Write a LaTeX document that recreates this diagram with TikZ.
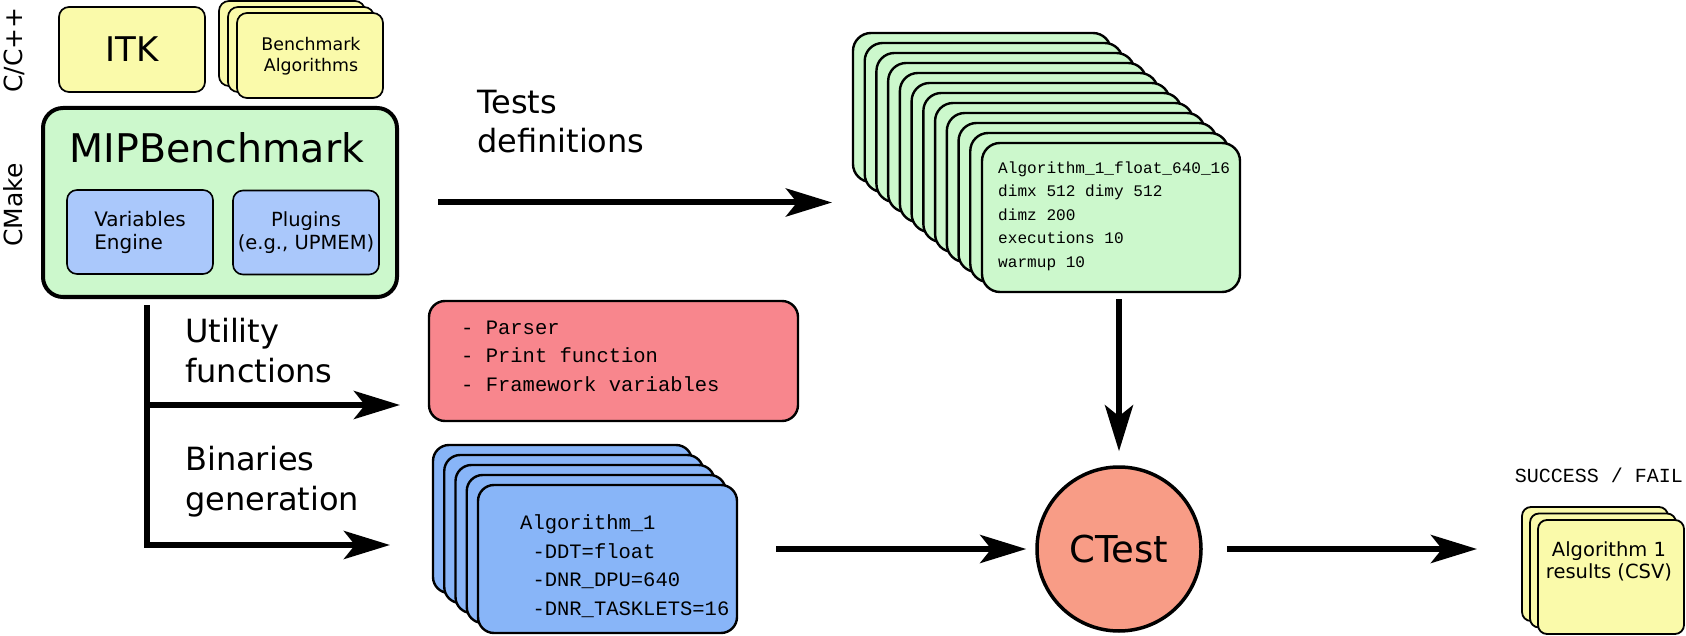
\documentclass[tikz,border=0pt]{standalone}
\usepackage{fontspec}
\setmainfont{DejaVu Sans}
\newfontfamily\monofont{Liberation Mono}
\usetikzlibrary{arrows.meta}
\newcommand{\fsz}[2]{\fontsize{#1}{#2}\selectfont}
\definecolor{ylw}{HTML}{FAFAAA}
\definecolor{grn}{HTML}{CCF8CC}
\definecolor{lblu}{HTML}{AAC8FB}
\definecolor{blu}{HTML}{88B5F8}
\definecolor{redb}{HTML}{F8868D}
\definecolor{ctc}{HTML}{F89C86}
\begin{document}
\begin{tikzpicture}[x=1pt,y=-1pt,
  arr/.style={line width=6pt,line join=miter,-{Stealth[length=46pt,width=28pt,inset=11pt]}},
  basebox/.style={draw=black,inner sep=0pt,outer sep=0pt},
  ybox/.style={basebox,fill=ylw,line width=1.7pt,rounded corners=10pt},
  gbox/.style={basebox,fill=grn,line width=2.4pt,rounded corners=18pt,minimum width=258pt,minimum height=149pt},
  bbox/.style={basebox,fill=blu,line width=2.4pt,rounded corners=16pt,minimum width=259pt,minimum height=148pt},
  rbox/.style={basebox,fill=ylw,line width=1.8pt,rounded corners=9pt,minimum width=146pt,minimum height=114pt},
  abox/.style={basebox,fill=ylw,line width=1.7pt,rounded corners=10pt,minimum width=146pt,minimum height=85pt},
  lbbox/.style={basebox,fill=lblu,line width=1.6pt,rounded corners=10pt,minimum width=146pt,minimum height=84pt,font=\fsz{20}{23}},
  lbl/.style={inner sep=0pt,align=left,font=\fsz{32}{39.5}},
  monotxt/.style={inner sep=0pt,align=left}
]
\useasboundingbox (0,0) rectangle (1686,636);

% side labels
\node[rotate=90,anchor=base,inner sep=0pt,font=\fsz{25}{30}] (cpp) at (22,50) {C/C++};
\node[rotate=90,anchor=base,inner sep=0pt,font=\fsz{25}{30}] (cmake) at (22,205) {CMake};

% ITK
\node[ybox,minimum width=146pt,minimum height=85pt,font=\fsz{34}{40}] (itk) at (132,49.5) {ITK};

% Benchmark algorithms stack
\foreach \i in {0,1,2} {
  \node[abox] (a\i) at ({310-(2-\i)*9},{55.5-(2-\i)*6}) {};
}
\node[inner sep=0pt,align=center,font=\fsz{17.4}{21}] (atxt) at (311,56) {Benchmark\\Algorithms};

% MIPBenchmark
\node[basebox,fill=grn,line width=4pt,rounded corners=20pt,minimum width=354pt,minimum height=189pt] (mip) at (220,202.5) {};
\node[inner sep=0pt,anchor=base,font=\fsz{39.5}{46}] (mipt) at (217,163) {MIPBenchmark};
\node[lbbox,align=left] (var) at (140,232) {Variables\\Engine};
\node[lbbox,align=center,font=\fsz{19.5}{23}] (plg) at (306,232.5) {Plugins\\(e.g., UPMEM)};

% Tests definitions
\node[lbl,anchor=west] (tests) at (477,121.4) {Tests\\definitions};
\foreach \i in {0,...,11} {
  \node[gbox] (g\i) at ({1111-(11-\i)*11.73},{217.5-(11-\i)*10}) {};
}
\node[monotxt,anchor=west,font=\monofont\fsz{16.1}{23.5}] (gtxt) at (998,216.3)
  {Algorithm\_1\_float\_640\_16\\dimx 512 dimy 512\\dimz 200\\executions 10\\warmup 10};

% Utility functions
\node[lbl,anchor=west] (util) at (185,350.4) {Utility\\functions};
\node[basebox,fill=redb,line width=2.4pt,rounded corners=16pt,minimum width=369pt,minimum height=120pt] (red) at (613.5,361) {};
\node[monotxt,anchor=west,font=\monofont\fsz{20.5}{28.5}] (rtxt) at (461,356)
  {- Parser\\- Print function\\- Framework variables};

% Binaries generation
\node[lbl,anchor=west] (bin) at (185,481.6) {Binaries\\generation};
\foreach \i in {0,...,4} {
  \node[bbox] (b\i) at ({607.5-(4-\i)*11.25},{559-(4-\i)*10}) {};
}
\node[monotxt,anchor=west,font=\monofont\fsz{20.5}{28.5}] (btxt) at (520,566)
  {Algorithm\_1\\\hspace*{12.3pt}-DDT=float\\\hspace*{12.3pt}-DNR\_DPU=640\\\hspace*{12.3pt}-DNR\_TASKLETS=16};

% CTest
\node[circle,draw=black,fill=ctc,line width=3.5pt,minimum size=164pt,inner sep=0pt,font=\fsz{37}{42}] (ctest) at (1119,549) {CTest};

% results
\node[inner sep=0pt,anchor=base east,font=\monofont\fsz{20}{24}] (sf) at (1683,482) {SUCCESS / FAIL};
\foreach \i in {0,1,2} {
  \node[rbox] (r\i) at ({1611-(2-\i)*8},{577-(2-\i)*6.5}) {};
}
\node[inner sep=0pt,align=center,font=\fsz{19.5}{21.5}] (rtxt2) at (1609,561.4) {Algorithm 1\\results (CSV)};

% connectors
\coordinate (v0) at (147,305);
\coordinate (u0) at (147,405);
\coordinate (v1) at (147,545);
\draw[arr] ([xshift=41pt]mip.east) -- ([xshift=-21pt]mip.east -| g0.west);
\draw[arr] (v0) -- (v1) -- ([xshift=-43pt]v1 -| b0.west);
\draw[arr] (u0) -- ([xshift=-29pt]u0 -| red.west);
\draw[arr] ([yshift=-7pt]g11.south -| ctest.north) -- ([yshift=14pt]ctest.north);
\draw[arr] ([xshift=39pt]b4.east |- ctest.west) -- ([xshift=-9pt]ctest.west);
\draw[arr] ([xshift=24pt]ctest.east) -- ([xshift=-45pt]ctest.east -| r0.west);
\end{tikzpicture}
\end{document}
